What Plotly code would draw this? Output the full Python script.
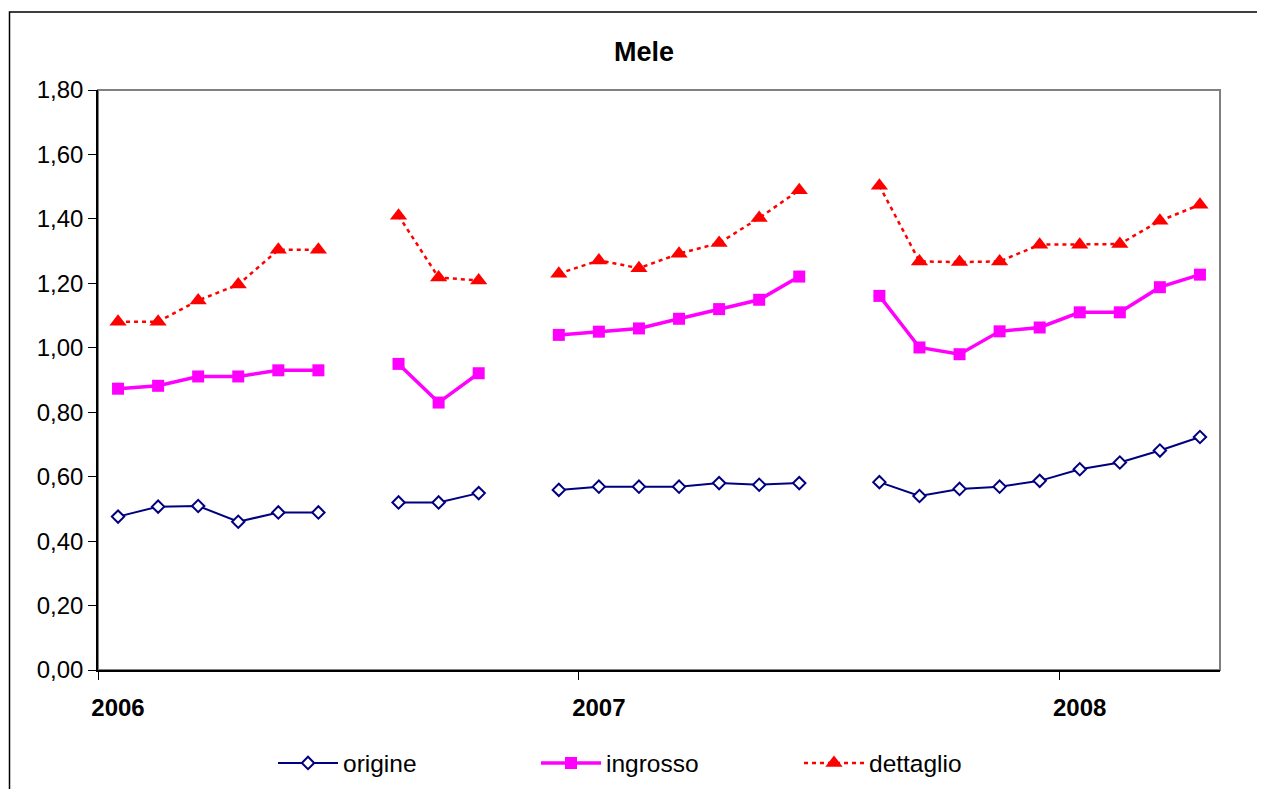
import plotly.graph_objects as go

# ---- data -------------------------------------------------------------
months = [f"{y}-{m:02d}" for y in (2006, 2007) for m in range(1, 13)] + \
         [f"2008-{m:02d}" for m in range(1, 5)]

origine = [0.476, 0.507, 0.509, 0.460, 0.489, 0.489, None, 0.520, 0.520, 0.549, None,
           0.559, 0.569, 0.569, 0.569, 0.580, 0.575, 0.580, None,
           0.583, 0.540, 0.562, 0.569, 0.587, 0.623, 0.644, 0.681, 0.723]
ingrosso = [0.873, 0.882, 0.911, 0.911, 0.930, 0.930, None, 0.950, 0.830, 0.921, None,
            1.040, 1.050, 1.060, 1.090, 1.120, 1.149, 1.221, None,
            1.161, 1.001, 0.980, 1.051, 1.063, 1.110, 1.110, 1.188, 1.227]
dettaglio = [1.081, 1.081, 1.147, 1.196, 1.304, 1.304, None, 1.410, 1.218, 1.209, None,
             1.230, 1.271, 1.247, 1.292, 1.325, 1.403, 1.489, None,
             1.503, 1.268, 1.266, 1.268, 1.320, 1.320, 1.322, 1.394, 1.444]

year_labels = ["2006", "2007", "2008"]
year_start_idx = [months.index(f"{y}-01") for y in year_labels]

x = list(range(len(months)))
FONT = "Liberation Sans, Arial, sans-serif"

# figure is drawn 8px inside the page (body margin), so work in figure coords
W, H = 1257, 781
L, T, R, B = 90, 82, 1212, 662          # plot area in figure pixels
PW, PH = R - L, B - T

fig = go.Figure()
fig.add_trace(go.Scatter(
    x=x, y=origine, name="origine", mode="lines+markers", hovertext=months,
    line=dict(color="#000080", width=2),
    marker=dict(symbol="diamond", size=9.5, color="white",
                line=dict(color="#000080", width=2)),
    connectgaps=False))
fig.add_trace(go.Scatter(
    x=x, y=ingrosso, name="ingrosso", mode="lines+markers", hovertext=months,
    line=dict(color="#FF00FF", width=3.5),
    marker=dict(symbol="square", size=12, color="#FF00FF"),
    connectgaps=False))
fig.add_trace(go.Scatter(
    x=x, y=dettaglio, name="dettaglio", mode="lines+markers", hovertext=months,
    line=dict(color="#FF0000", width=2.5, dash="4px,4px"),
    marker=dict(symbol="triangle-up", size=15, color="#FF0000"),
    connectgaps=False))

fig.update_layout(
    width=W, height=H,
    margin=dict(l=L, r=W - R, t=T, b=H - B, pad=0, autoexpand=False),
    paper_bgcolor="white", plot_bgcolor="white",
    separators=",.",
    font=dict(family=FONT, size=24, color="black"),
    title=dict(text="<b>Mele</b>", x=636 / W, xanchor="center",
               y=1 - 44 / H, yanchor="middle", font=dict(size=27, family=FONT)),
    showlegend=True,
    legend=dict(orientation="h", x=(265 - L) / PW, xanchor="left",
                y=(B - 755) / PH, yanchor="middle",
                font=dict(size=24.5, family=FONT), itemwidth=60,
                entrywidth=188, entrywidthmode="pixels",
                bgcolor="rgba(0,0,0,0)"),
    xaxis=dict(range=[-0.5, len(months) - 0.5],
               tickmode="array", tickvals=[i - 0.5 for i in year_start_idx],
               ticktext=[f"<b>{t}</b>" for t in year_labels],
               ticklabelshift=20, ticklabelstandoff=7,
               tickfont=dict(size=24),
               ticks="outside", ticklen=8, tickwidth=1, tickcolor="black",
               showline=True, linecolor="black", linewidth=1.5,
               showgrid=False, zeroline=False, automargin=False),
    yaxis=dict(range=[0, 1.8], dtick=0.2, tickformat=".2f",
               tickfont=dict(size=24),
               ticks="outside", ticklen=8, tickwidth=1, tickcolor="black",
               ticklabelstandoff=0,
               showline=True, linecolor="black", linewidth=1.5,
               showgrid=False, zeroline=False, automargin=False),
    shapes=[
        dict(type="rect", xref="paper", yref="paper", x0=0, x1=1, y0=0, y1=1,
             line=dict(color="#808080", width=2), layer="below"),
        dict(type="rect", xref="paper", yref="paper",
             x0=(1.5 - L) / PW, x1=(W + 20 - L) / PW,
             y0=(B - (H + 20)) / PH, y1=(B - 4) / PH,
             line=dict(color="black", width=1.5), layer="below"),
    ],
)

fig.write_html("out.html")
